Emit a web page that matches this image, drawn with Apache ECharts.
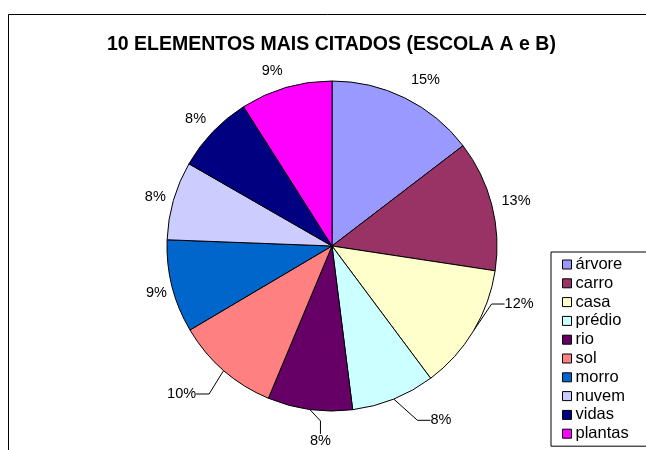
<!DOCTYPE html>
<html>
<head>
<meta charset="utf-8">
<title>10 elementos mais citados</title>
<script src="https://cdn.jsdelivr.net/npm/echarts@6/dist/echarts.min.js"></script>
<style>
    html, body { margin: 0; padding: 0; background: #fff; }
    #center { width: 646px; height: 450px; }
</style>
</head>
<body>
<div id="center"></div>
<script>
// dados (percentuais das fatias)
var elementos = ['árvore', 'carro', 'casa', 'prédio', 'rio', 'sol', 'morro', 'nuvem', 'vidas', 'plantas'];
var percentuais = [14.6, 12.8, 12.4, 8.2, 8.3, 10.2, 9.1, 7.7, 7.7, 9.0];
var cores = ['#9999FF', '#993366', '#FFFFCC', '#CCFFFF', '#660066', '#FF8080', '#0066CC', '#CCCCFF', '#000080', '#FF00FF'];

// rotulos que tem linha de chamada
var comLinha = [2, 3, 4, 5];
// ajuste fino (px) dos rotulos em relacao a posicao padrao do echarts
var ajuste = [[-3.5, -9], [-5, -1], [4.5, -32], [15, 12], [40.5, 22], [-3, 16], [9.5, 4], [7, -1], [5.5, -6], [4.5, -7]];

var fonte = '"Liberation Sans", Arial, sans-serif';

var data = [];
for (var i = 0; i < elementos.length; i++) {
    var linha = comLinha.indexOf(i) >= 0;
    data.push({
        name: elementos[i],
        value: percentuais[i],
        itemStyle: { color: cores[i] },
        labelLine: linha ? { show: true, length: 10, length2: 13 } : { show: false, length: 10, length2: 0 }
    });
}

var myChart = echarts.init(document.getElementById('center'), null, { renderer: 'canvas' });
var option = {
    animation: false,
    backgroundColor: '#fff',
    title: {
        text: '10 ELEMENTOS MAIS CITADOS (ESCOLA A e B)',
        left: 102,
        top: 30,
        padding: 5,
        textStyle: {
            fontFamily: fonte,
            fontSize: 19.5,
            fontWeight: 'bold',
            color: '#000'
        }
    },
    graphic: [{
        type: 'rect',
        shape: { x: 8.5, y: 14.5, width: 700, height: 500 },
        style: { fill: null, stroke: '#000', lineWidth: 1 },
        silent: true,
        z: -1
    }],
    legend: {
        orient: 'vertical',
        left: 551,
        top: 252,
        padding: [4, 18, 4, 11],
        itemWidth: 9,
        itemHeight: 9,
        itemGap: 1.8,
        icon: 'rect',
        borderColor: '#000',
        borderWidth: 1,
        itemStyle: { borderColor: '#000', borderWidth: 1 },
        textStyle: {
            fontFamily: fonte,
            fontSize: 16.5,
            color: '#000',
            lineHeight: 17,
            padding: [0, 0, 0, -1]
        },
        data: elementos
    },
    series: [{
        name: 'elementos',
        type: 'pie',
        center: [332, 246],
        radius: 165,
        startAngle: 90,
        clockwise: true,
        avoidLabelOverlap: false,
        itemStyle: {
            borderColor: '#000',
            borderWidth: 1
        },
        label: {
            show: true,
            position: 'outside',
            fontFamily: fonte,
            fontSize: 14.5,
            color: '#000',
            formatter: function (p) {
                return Math.round(p.percent) + '%';
            }
        },
        labelLine: {
            lineStyle: { color: '#000', width: 1 },
            smooth: false
        },
        labelLayout: function (params) {
            var d = ajuste[params.dataIndex];
            var r = params.labelRect;
            return {
                x: r.x + r.width / 2 + d[0],
                y: r.y + r.height / 2 + d[1],
                align: 'center',
                verticalAlign: 'middle'
            };
        },
        emphasis: { disabled: true },
        data: data
    }]
};
myChart.setOption(option);
</script>
</body>
</html>
